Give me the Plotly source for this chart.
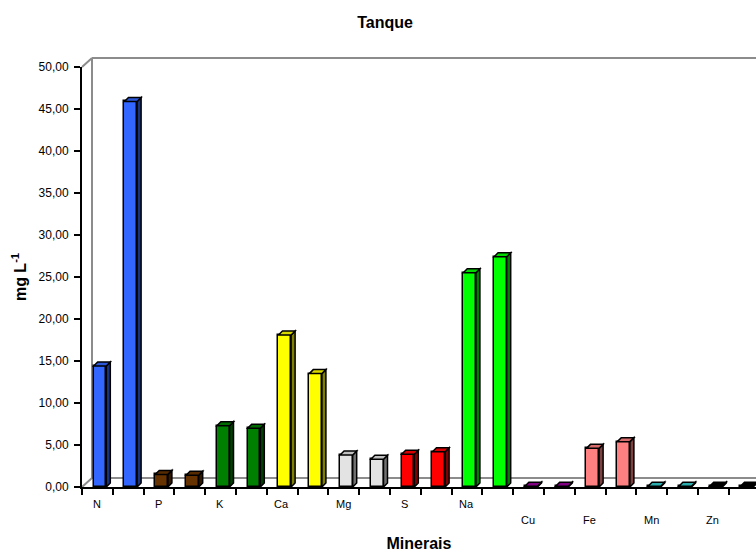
import plotly.graph_objects as go

# ---- data ----
minerals = ["N", "P", "K", "Ca", "Mg", "S", "Na", "Cu", "Fe", "Mn", "Zn"]
serie1 = [14.4, 1.5, 7.3, 18.1, 3.8, 3.9, 25.5, 0.1, 4.6, 0.1, 0.1]
serie2 = [45.9, 1.4, 7.0, 13.5, 3.3, 4.2, 27.4, 0.1, 5.4, 0.1, 0.1]
front_colors = ["#3366FF", "#663300", "#008000", "#FFFF00", "#E3E3E3", "#FF0000",
                "#00FF00", "#990099", "#FF8080", "#33CCCC", "#000000"]
lower_row = ["Cu", "Fe", "Mn", "Zn"]
y_ticks = [0, 5, 10, 15, 20, 25, 30, 35, 40, 45, 50]

# ---- geometry / style ----
FONT = "Arial, Liberation Sans, sans-serif"
W, H = 756, 553
ML, MR, MT, MB = 82, 0, 67, 66
PW, PH = W - ML - MR, H - MT - MB
CAT_PX = 30.8
X0 = -0.584
X1 = X0 + PW / CAT_PX
BAR_W = 0.41
DX = 4 / CAT_PX
DY = 4 / (PH / 50.0)
OUTLINE = 1.5


def shade(hexc, f):
    hexc = hexc.lstrip("#")
    r, g, b = int(hexc[0:2], 16), int(hexc[2:4], 16), int(hexc[4:6], 16)
    return "#%02X%02X%02X" % (int(r * f), int(g * f), int(b * f))


xs1 = [2 * i for i in range(len(minerals))]
xs2 = [2 * i + 1 for i in range(len(minerals))]

fig = go.Figure()
for name, xs, vals in [("Série 1", xs1, serie1), ("Série 2", xs2, serie2)]:
    fig.add_trace(go.Bar(
        x=xs, y=vals, width=BAR_W, name=name,
        marker=dict(color=front_colors, line=dict(color="#000000", width=OUTLINE)),
        showlegend=False, hoverinfo="x+y",
    ))

shapes = []
# 3D side and top faces computed from the data
for xs, vals in [(xs1, serie1), (xs2, serie2)]:
    for x, v, c in zip(xs, vals, front_colors):
        hw = BAR_W / 2
        side = (f"M {x+hw},0 L {x+hw+DX},{DY} L {x+hw+DX},{v+DY} L {x+hw},{v} Z")
        top = (f"M {x-hw},{v} L {x-hw+DX},{v+DY} L {x+hw+DX},{v+DY} L {x+hw},{v} Z")
        shapes.append(dict(type="path", path=side, xref="x", yref="y",
                           fillcolor=shade(c, 0.5),
                           line=dict(color="#000000", width=OUTLINE)))
        shapes.append(dict(type="path", path=top, xref="x", yref="y",
                           fillcolor=shade(c, 0.85),
                           line=dict(color="#000000", width=OUTLINE)))

# back walls / floor of the 3D frame (paper coordinates)
wx = 10 / PW
wy = 9 / PH
gray = dict(color="#8C8C8C", width=2)
for (xa, ya, xb, yb) in [(wx, 1 + wy, 1.0, 1 + wy),
                         (wx, wy, wx, 1 + wy),
                         (wx, wy, 1.0, wy),
                         (0, 1, wx, 1 + wy),
                         (0, 0, wx, wy)]:
    shapes.append(dict(type="line", xref="paper", yref="paper", x0=xa, y0=ya,
                       x1=xb, y1=yb, line=gray, layer="below"))

annotations = []
for i, m in enumerate(minerals):
    yy = -(520 - 487) / PH if m in lower_row else -(504 - 487) / PH
    annotations.append(dict(x=2 * i - 0.11, y=yy, xref="x", yref="paper", text=m,
                            showarrow=False, yanchor="middle", xanchor="center",
                            font=dict(family=FONT, size=11, color="#000000")))

fig.update_layout(
    width=W, height=H,
    margin=dict(l=ML, r=MR, t=MT, b=MB, autoexpand=False),
    paper_bgcolor="#FFFFFF", plot_bgcolor="rgba(0,0,0,0)",
    separators=",.",
    font=dict(family=FONT, color="#000000"),
    title=dict(text="Tanque", x=385 / W, xref="container", xanchor="center",
               y=1 - 22 / H, yref="container", yanchor="middle",
               font=dict(family=FONT, size=16, color="#000000", weight=700)),
    xaxis=dict(range=[X0, X1], showgrid=False, zeroline=False,
               showline=True, linecolor="#000000", linewidth=2,
               tickmode="array", tickvals=[X0 + k for k in range(23)],
               ticks="outside", ticklen=6, tickwidth=2, tickcolor="#000000",
               showticklabels=False,
               title=dict(text="Minerais", standoff=44,
                          font=dict(family=FONT, size=16, color="#000000", weight=700))),
    yaxis=dict(range=[0, 50], showgrid=False, zeroline=False,
               showline=True, linecolor="#000000", linewidth=2,
               tickmode="array", tickvals=y_ticks, tickformat=".2f",
               ticks="outside", ticklen=6, tickwidth=2, tickcolor="#000000",
               ticklabelstandoff=3,
               tickfont=dict(family=FONT, size=12, color="#000000"),
               title=dict(text="mg L<sup>-1</sup>", standoff=8,
                          font=dict(family=FONT, size=16, color="#000000", weight=700))),
    shapes=shapes, annotations=annotations,
    bargap=0, showlegend=False,
)

fig.write_html("out.html")
